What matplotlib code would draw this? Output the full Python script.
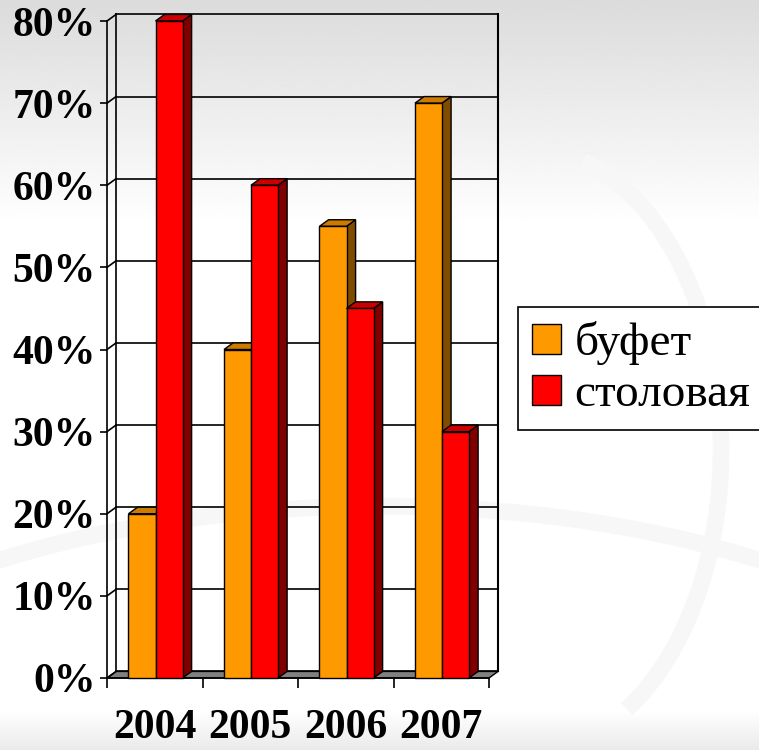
import numpy as np
import matplotlib
matplotlib.use('Agg')
import matplotlib.pyplot as plt
from matplotlib.patches import Polygon, Patch, Arc

years = ['2004', '2005', '2006', '2007']
bufet = [20, 40, 55, 70]
stolovaya = [80, 60, 45, 30]
series_names = ['буфет', 'столовая']
yticks = list(range(0, 81, 10))

front_cols = ['#FF9900', '#FF0000']
top_cols = ['#CC7A00', '#CC0000']
side_cols = ['#7F4C00', '#800000']

DX = 0.095   # depth offset in category units
DY = 0.8     # depth offset in percent units
BW = 0.283   # bar width
X0 = 0.225   # first bar offset inside category

fig = plt.figure(figsize=(7.59, 7.5), dpi=100)

# background gradient
bg = fig.add_axes([0, 0, 1, 1])
bg.axis('off')
yy = np.linspace(1, 0, 400)
grad = 0.86 + 0.14 * np.clip((1 - yy) / 0.3, 0, 1)
grad = np.minimum(grad, 0.92 + 0.08 * np.clip(yy / 0.05, 0, 1))
bg.imshow(grad[:, None], cmap='gray', vmin=0, vmax=1, extent=[0, 1, 0, 1],
          aspect='auto', origin='upper')
# faint swirl
bg.add_patch(Arc((0.70, 0.40), 0.50, 0.80, theta1=-70, theta2=80, lw=12,
                 color='#f7f7f7'))
bg.add_patch(Arc((0.50, -0.05), 1.7, 0.75, theta1=10, theta2=170, lw=12,
                 color='#f7f7f7'))
bg.set_xlim(0, 1)
bg.set_ylim(0, 1)

ax = fig.add_axes([107 / 759, 1 - 678 / 750, 382 / 759, 657 / 750])
ax.set_xlim(0, 4)
ax.set_ylim(0, 80)
ax.patch.set_alpha(0)
for s in ['top', 'right']:
    ax.spines[s].set_visible(False)
ax.spines['left'].set_linewidth(1.2)
ax.spines['bottom'].set_linewidth(1.2)

n = len(years)

# floor
ax.add_patch(Polygon([(0, 0), (n, 0), (n + DX, DY), (DX, DY)], closed=True,
                     facecolor='#808080', edgecolor='black', lw=1,
                     clip_on=False, zorder=1))

# back wall and side wall grid
for v in yticks:
    ax.plot([DX, n + DX], [v + DY, v + DY], color='black', lw=1.2,
            clip_on=False, zorder=1)
    ax.plot([0, DX], [v, v + DY], color='black', lw=1.2, clip_on=False, zorder=1)
ax.plot([DX, DX], [DY, 80 + DY], color='black', lw=1.2, clip_on=False, zorder=1)
ax.plot([n + DX, n + DX], [DY, 80 + DY], color='black', lw=1.5, clip_on=False,
        zorder=1)


def bar3d(x, h, k):
    front = Polygon([(x, 0), (x + BW, 0), (x + BW, h), (x, h)], closed=True,
                    facecolor=front_cols[k], edgecolor='black', lw=1,
                    clip_on=False, zorder=3)
    top = Polygon([(x, h), (x + BW, h), (x + BW + DX, h + DY), (x + DX, h + DY)],
                  closed=True, facecolor=top_cols[k], edgecolor='black', lw=1,
                  clip_on=False, zorder=3)
    side = Polygon([(x + BW, 0), (x + BW + DX, DY), (x + BW + DX, h + DY),
                    (x + BW, h)], closed=True, facecolor=side_cols[k],
                   edgecolor='black', lw=1, clip_on=False, zorder=3)
    for p in (side, top, front):
        ax.add_patch(p)


for i in range(n):
    bar3d(i + X0, bufet[i], 0)
    bar3d(i + X0 + BW, stolovaya[i], 1)

font = 'Liberation Serif'
ax.set_yticks(yticks)
ax.set_yticklabels([f'{v}%' for v in yticks], fontsize=30, fontweight='bold',
                   family=font)
ax.tick_params(axis='y', direction='out', length=5, width=1.2, pad=3)

ax.set_xticks(range(n + 1))
ax.set_xticklabels([])
ax.tick_params(axis='x', which='major', direction='out', length=7, width=1.2)
ax.set_xticks([i + 0.5 for i in range(n)], minor=True)
ax.set_xticklabels(years, minor=True, fontsize=30, fontweight='bold', family=font)
ax.tick_params(axis='x', which='minor', length=0, pad=22)

handles = [Patch(facecolor=front_cols[0], edgecolor='black'),
           Patch(facecolor=front_cols[1], edgecolor='black')]
leg = fig.legend(handles, series_names, loc='upper left',
                 bbox_to_anchor=(518 / 759, 1 - 307 / 750), borderaxespad=0,
                 prop={'family': font, 'size': 34},
                 frameon=True, fancybox=False, edgecolor='black', framealpha=1,
                 handlelength=0.6, handleheight=0.6, handletextpad=0.3,
                 labelspacing=0.18, borderpad=0.3)
leg.get_frame().set_linewidth(1.2)

fig.savefig('out.png', dpi=100)
